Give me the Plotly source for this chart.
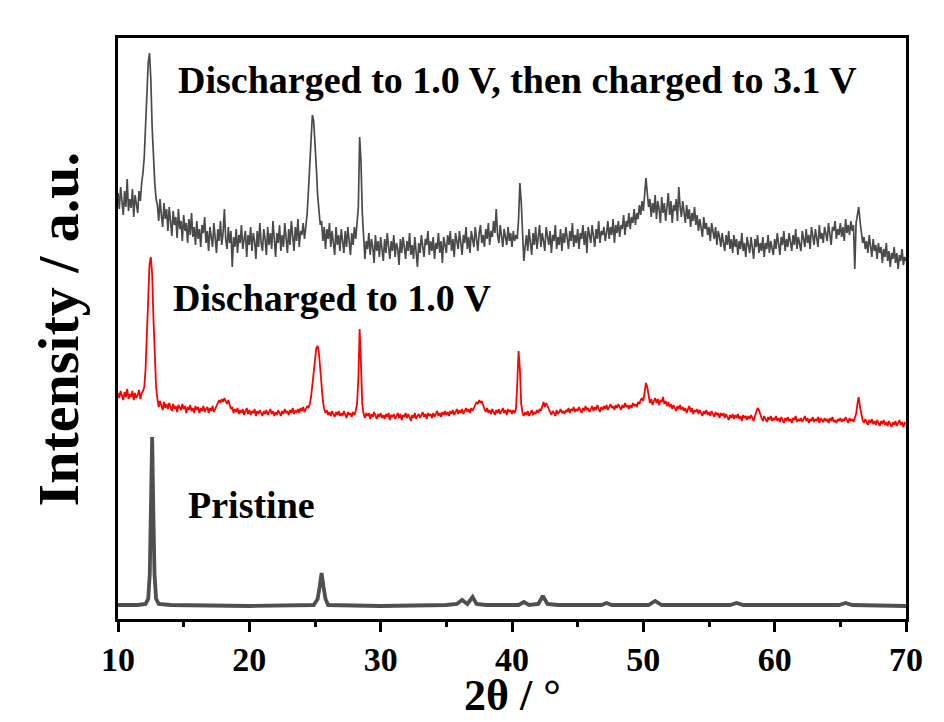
import plotly.graph_objects as go

# 2theta grid for the two noisy scans (0.1 deg steps, 10..70)
two_theta = [round(10 + 0.1 * i, 1) for i in range(601)]

# Intensities (a.u., vertical offsets already included)
charged_3p1V = [
    426, 410, 432, 415, 404, 428, 412, 440, 408, 420,
    411, 430, 402, 424, 414, 406, 428, 418, 436, 446,
    462, 492, 525, 556, 566, 540, 492, 456, 436, 420,
    414, 398, 420, 404, 392, 416, 400, 410, 388, 412,
    396, 383, 408, 394, 402, 381, 410, 390, 398, 378,
    404, 388, 396, 376, 400, 384, 406, 382, 392, 374,
    398, 380, 390, 372, 394, 386, 402, 376, 388, 368,
    392, 380, 372, 396, 384, 366, 390, 378, 398, 374,
    386, 410, 380, 370, 392, 376, 388, 352, 382, 372,
    390, 366, 384, 376, 394, 370, 380, 388, 362, 384,
    374, 392, 368, 386, 378, 360, 388, 372, 396, 376,
    368, 390, 380, 364, 392, 374, 386, 370, 398, 378,
    362, 386, 376, 394, 368, 384, 372, 396, 380, 366,
    390, 374, 398, 380, 368, 392, 378, 400, 372, 388,
    384, 396, 380, 392, 405, 428, 455, 486, 504, 498,
    480, 452, 424, 406, 394, 398, 378, 392, 370, 390,
    380, 396, 372, 388, 376, 364, 392, 374, 384, 368,
    390, 378, 366, 388, 372, 392, 376, 364, 386, 374,
    392, 380, 396, 412, 482, 458, 406, 384, 360, 378,
    370, 386, 364, 380, 372, 356, 384, 368, 378, 362,
    382, 370, 358, 380, 366, 386, 372, 360, 378, 368,
    384, 362, 376, 370, 354, 380, 366, 382, 372, 360,
    378, 368, 386, 364, 374, 360, 382, 370, 352, 376,
    366, 384, 370, 362, 380, 374, 388, 364, 378, 368,
    382, 360, 376, 370, 386, 366, 378, 356, 382, 372,
    366, 384, 374, 388, 368, 380, 362, 386, 376, 370,
    388, 372, 364, 384, 376, 392, 370, 382, 366, 388,
    378, 372, 392, 380, 368, 386, 394, 376, 384, 372,
    390, 380, 396, 374, 388, 382, 398, 386, 410, 384,
    376, 394, 384, 372, 390, 380, 374, 392, 378, 386,
    372, 388, 378, 384, 380, 400, 436, 418, 384, 358,
    372, 384, 368, 390, 376, 364, 386, 374, 392, 370,
    382, 394, 372, 386, 378, 368, 392, 380, 374, 388,
    366, 384, 378, 394, 370, 382, 374, 390, 368, 386,
    376, 392, 380, 370, 388, 378, 396, 372, 384, 376,
    390, 370, 386, 380, 394, 374, 388, 366, 392, 382,
    376, 394, 384, 372, 390, 380, 398, 376, 388, 384,
    392, 378, 386, 398, 380, 392, 384, 400, 376, 394,
    386, 398, 382, 394, 390, 404, 384, 398, 392, 406,
    390, 402, 396, 410, 394, 406, 400, 414, 404, 418,
    408, 425, 441, 426, 412, 420, 402, 416, 406, 424,
    400, 418, 410, 396, 422, 406, 416, 398, 412, 426,
    404, 418, 396, 414, 408, 420, 398, 432, 412, 402,
    418, 404, 396, 414, 400, 410, 392, 406, 398, 412,
    394, 404, 388, 400, 392, 382, 402, 390, 396, 384,
    392, 378, 396, 386, 380, 392, 374, 388, 382, 372,
    386, 376, 368, 384, 374, 388, 370, 380, 366, 384,
    372, 380, 364, 378, 370, 386, 368, 376, 362, 382,
    374, 366, 382, 370, 360, 380, 372, 384, 366, 376,
    368, 382, 362, 376, 370, 384, 366, 378, 372, 364,
    380, 370, 386, 372, 364, 382, 374, 388, 368, 380,
    372, 386, 376, 368, 384, 374, 390, 370, 382, 376,
    368, 388, 378, 372, 390, 376, 384, 370, 392, 380,
    374, 390, 382, 372, 394, 380, 386, 376, 392, 384,
    378, 396, 384, 374, 392, 388, 398, 380, 390, 384,
    396, 382, 392, 378, 400, 386, 394, 384, 398, 388,
    394, 350, 396, 404, 412, 398, 386, 376, 382, 370,
    378, 366, 384, 372, 362, 380, 368, 374, 360, 376,
    366, 372, 356, 370, 362, 376, 358, 368, 352, 366,
    360, 372, 356, 366, 350, 364, 358, 370, 354, 362,
    358,
]

discharged_1V = [
    226, 221, 228, 223, 219, 227, 222, 230, 220, 225,
    222, 228, 219, 226, 221, 224, 229, 220, 226, 228,
    232, 250, 285, 330, 355, 362, 345, 300, 260, 232,
    220, 212, 218, 214, 209, 217, 211, 215, 210, 216,
    212, 208, 215, 210, 213, 207, 214, 211, 209, 215,
    210, 213, 206, 212, 209, 214, 208, 211, 206, 213,
    209, 212, 206, 211, 208, 213, 207, 210, 212, 206,
    211, 208, 213, 207, 210, 212, 215, 219, 216, 220,
    217, 221, 218, 215, 219, 214, 210, 212, 206, 210,
    207, 211, 205, 209, 206, 210, 204, 208, 211, 205,
    209, 204, 208, 206, 210, 203, 208, 205, 209, 206,
    203, 208, 205, 209, 204, 207, 210, 205, 208, 203,
    207, 204, 209, 206, 203, 208, 205, 210, 206, 208,
    204, 209, 206, 211, 205, 208, 207, 210, 206, 211,
    208, 212, 207, 210, 213, 211, 215, 222, 235, 250,
    262, 271, 273, 266, 250, 232, 218, 210, 206, 209,
    204, 207, 203, 208, 205, 202, 207, 204, 208, 203,
    206, 203, 208, 205, 201, 207, 204, 206, 202, 207,
    204, 208, 215, 240, 290, 255, 215, 205, 201, 206,
    203, 206, 200, 205, 202, 207, 203, 200, 205, 202,
    206, 201, 204, 200, 205, 202, 206, 199, 204, 202,
    205, 200, 203, 206, 201, 205, 199, 204, 202, 206,
    201, 205, 202, 198, 204, 201, 206, 200, 203, 205,
    201, 204, 207, 202, 205, 200, 206, 203, 205, 201,
    206, 202, 205, 208, 203, 206, 202, 207, 204, 208,
    204, 207, 203, 208, 205, 209, 204, 207, 210, 205,
    209, 206, 210, 205, 208, 211, 207, 210, 206, 211,
    208, 212, 214, 217, 215, 219, 216, 218, 213, 210,
    207, 211, 206, 209, 205, 210, 207, 204, 209, 206,
    210, 205, 208, 211, 206, 209, 204, 210, 207, 209,
    205, 209, 206, 210, 235, 268, 250, 215, 206, 203,
    207, 204, 208, 203, 206, 209, 204, 207, 205, 209,
    206, 210, 208, 214, 217, 212, 216, 213, 209, 207,
    204, 208, 206, 203, 209, 205, 207, 210, 206, 208,
    205, 209, 207, 211, 206, 210, 208, 212, 207, 210,
    208, 212, 209, 206, 211, 208, 213, 209, 211, 207,
    210, 213, 208, 212, 209, 214, 210, 207, 212, 209,
    213, 210, 214, 209, 212, 215, 211, 213, 209, 214,
    211, 215, 212, 209, 214, 211, 216, 212, 214, 210,
    214, 211, 216, 213, 215, 212, 217, 215, 219, 221,
    218, 230, 236, 232, 222, 216, 220, 214, 218, 221,
    216, 220, 214, 219, 217, 222, 215, 218, 213, 217,
    212, 215, 210, 214, 211, 208, 213, 210, 214, 209,
    212, 208, 211, 206, 210, 213, 207, 211, 205, 209,
    207, 210, 205, 209, 206, 203, 208, 205, 209, 204,
    207, 203, 208, 205, 202, 207, 204, 206, 201, 206,
    203, 206, 201, 205, 202, 199, 204, 201, 205, 200,
    204, 201, 205, 200, 203, 198, 204, 201, 203, 199,
    203, 200, 204, 201, 198, 203, 208, 211, 209, 204,
    201, 198, 203, 200, 197, 202, 199, 203, 198, 201,
    199, 203, 198, 201, 197, 202, 199, 196, 201, 198,
    202, 198, 200, 196, 201, 199, 203, 197, 200, 198,
    201, 197, 200, 203, 198, 201, 196, 200, 198, 202,
    197, 200, 198, 202, 196, 201, 199, 197, 201, 198,
    200, 196, 201, 198, 202, 197, 199, 196, 200, 198,
    201, 197, 200, 198, 202, 199, 196, 201, 198, 200,
    197, 201, 205, 215, 222, 212, 204, 199, 196, 200,
    197, 194, 199, 196, 200, 195, 198, 194, 199, 196,
    193, 198, 195, 199, 194, 197, 193, 198, 195, 192,
    197, 194, 198, 193, 196, 199, 194, 197, 192, 196,
    195,
]

pristine_theta = [10, 11.5, 12.1, 12.3, 12.42, 12.5, 12.6, 12.7, 12.78, 12.9, 13.1, 14,
                  20, 24.9, 25.2, 25.35, 25.5, 25.65, 25.8, 26.0, 30, 35, 35.8, 36.2,
                  36.6, 37.0, 37.3, 38, 40.5, 40.9, 41.3, 42.0, 42.35, 42.7, 43.5, 46.8,
                  47.2, 47.6, 50.4, 50.9, 51.4, 56.6, 57.1, 57.6, 64.9, 65.4, 65.9, 70]
pristine = [14, 14, 15, 20, 45, 100, 182, 100, 45, 20, 15, 14,
            13, 14, 20, 32, 46, 32, 20, 14, 13, 14, 15, 19,
            15, 22, 15, 14, 14, 17, 14, 15, 23, 15, 14, 14,
            16, 14, 14, 18, 14, 14, 16, 14, 14, 16, 14, 13]

assert len(charged_3p1V) == len(two_theta), len(charged_3p1V)
assert len(discharged_1V) == len(two_theta), len(discharged_1V)
assert len(pristine) == len(pristine_theta)

labels = ["Discharged to 1.0 V, then charged to 3.1 V", "Discharged to 1.0 V", "Pristine"]
label_x = [14.45, 14.05, 15.2]
label_y = [539, 321, 114]

x_ticks = [10, 20, 30, 40, 50, 60, 70]

FONT = "Liberation Serif"

fig = go.Figure()
fig.add_trace(go.Scatter(x=two_theta, y=charged_3p1V, mode="lines",
                         line=dict(color="#4a4a4a", width=1.7), showlegend=False))
fig.add_trace(go.Scatter(x=two_theta, y=discharged_1V, mode="lines",
                         line=dict(color="#ff0000", width=1.8), showlegend=False))
fig.add_trace(go.Scatter(x=pristine_theta, y=pristine, mode="lines",
                         line=dict(color="#4f4f4f", width=3.8), showlegend=False))

for t, xx, yy in zip(labels, label_x, label_y):
    fig.add_annotation(x=xx, y=yy, xref="x", yref="y", text=t, showarrow=False,
                       xanchor="left", yanchor="middle",
                       font=dict(family=FONT, size=38, color="black", weight="bold"))

fig.add_annotation(x=-0.075, y=0.5, xref="paper", yref="paper", text="Intensity / a.u.",
                   showarrow=False, textangle=-90, xanchor="center", yanchor="middle",
                   font=dict(family=FONT, size=58, color="black", weight="bold"))
fig.add_annotation(x=0.5, y=-0.1756, xref="paper", yref="paper", text="2θ / °",
                   showarrow=False, xanchor="center", yanchor="bottom", borderpad=0,
                   font=dict(family=FONT, size=44, color="black", weight="bold"))

fig.update_layout(
    width=944, height=722,
    margin=dict(l=118, r=38, t=38, b=103),
    paper_bgcolor="white", plot_bgcolor="white",
)

fig.update_xaxes(range=[10, 70], tickvals=x_ticks, ticktext=[str(v) for v in x_ticks],
                 showline=True, linewidth=3, linecolor="black", mirror=True,
                 ticks="outside", ticklen=10, tickwidth=2.5, tickcolor="black",
                 minor=dict(ticks="outside", ticklen=5, tickwidth=2.5, tickcolor="black", dtick=5, tick0=5),
                 showgrid=False, zeroline=False, ticklabelstandoff=-2,
                 tickfont=dict(family=FONT, size=34, color="black", weight="bold"))
fig.update_yaxes(range=[0, 581], showline=True, linewidth=3, linecolor="black", mirror=True,
                 showticklabels=False, ticks="", showgrid=False, zeroline=False)

fig.write_html("out.html")
